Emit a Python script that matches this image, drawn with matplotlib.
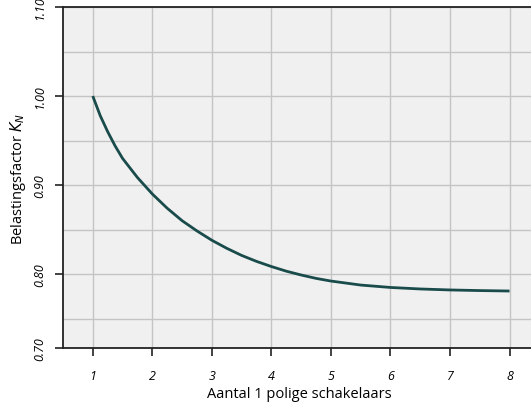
#!/usr/bin/env python3
# -*- coding: utf-8 -*-
import numpy as np
import matplotlib
matplotlib.use('Agg')
import matplotlib.pyplot as plt

#!----------------------------------------------------------------------
#!	DATA
#!----------------------------------------------------------------------
n_switches = [1.0, 1.125, 1.25, 1.375, 1.5, 1.75, 2.0, 2.25, 2.5, 2.75, 3.0, 3.25, 3.5,
			  3.75, 4.0, 4.25, 4.5, 4.75, 5.0, 5.5, 6.0, 6.5, 7.0, 7.5, 8.0]
k_factor = [1.000, 0.978, 0.960, 0.944, 0.930, 0.9085, 0.890, 0.874, 0.860, 0.8485, 0.838,
			0.829, 0.821, 0.8143, 0.8085, 0.8033, 0.799, 0.7952, 0.7922, 0.7877, 0.7850,
			0.7833, 0.7822, 0.7815, 0.7810]

x_ticks = [1, 2, 3, 4, 5, 6, 7, 8]
y_ticks = [0.717, 0.80, 0.90, 1.00, 1.10]
y_ticklabels = ['0.70', '0.80', '0.90', '1.00', '1.10']
y_minor = [0.75, 0.85, 0.95, 1.05]

#!----------------------------------------------------------------------
#!	PLOT
#!----------------------------------------------------------------------
plt.rcParams['font.family'] = ['Open Sans', 'DejaVu Sans']
plt.rcParams['mathtext.fontset'] = 'dejavusans'

fig = plt.figure(figsize=(5.31, 4.06), dpi=100)
ax = fig.add_axes([63/531, 1 - 349/406, 1 - 63/531 + 0.01, (349 - 8)/406])
ax.set_facecolor('#f0f0f0')

ax.plot(n_switches, k_factor, '-', color='#1a4b4b', lw=2.0, solid_capstyle='butt',
		solid_joinstyle='round', antialiased=True, zorder=3)

ax.set_xlim(0.5, 8.45)
ax.set_ylim(0.717, 1.10)
ax.set_xticks(x_ticks)
ax.set_xticklabels([str(v) for v in x_ticks], fontstyle='italic', fontsize=9)
ax.set_yticks(y_ticks)
ax.set_yticklabels(y_ticklabels, fontstyle='italic', fontsize=9, rotation=90, va='center')
ax.set_yticks(y_minor, minor=True)

ax.grid(which='both', color='#c4c4c4', lw=1.0, zorder=0)
ax.set_axisbelow(True)
ax.tick_params(axis='x', which='major', direction='out', length=6, width=1.2, pad=9, color='#222222')
ax.tick_params(axis='y', which='major', direction='out', length=6, width=1.2, pad=6, color='#222222')
ax.tick_params(which='minor', length=0)

for side in ['left', 'bottom', 'top']:
	ax.spines[side].set_color('#222222')
	ax.spines[side].set_linewidth(1.3)
ax.spines['right'].set_visible(False)

ax.set_xlabel("Aantal 1 polige schakelaars", fontsize=10.5, labelpad=3)
ax.set_ylabel(r"Belastingsfactor $K_N$", fontsize=10.5, labelpad=4)

plt.savefig('out.png', dpi=100)
